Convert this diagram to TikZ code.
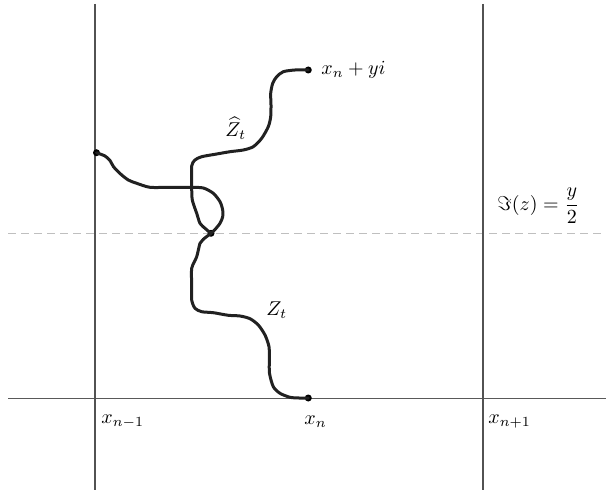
\documentclass[tikz,border=0pt]{standalone}
\usepackage{amsmath,amssymb}
\begin{document}
\begin{tikzpicture}[x=0.5pt,y=-0.5pt,
  gridline/.style={draw=black!68,line width=1pt},
  axisline/.style={draw=black!65,line width=0.7pt},
  midline/.style={draw=black!25,line width=0.6pt,dash pattern=on 4pt off 2.5pt},
  path/.style={draw=black!87,line width=1.5pt,line join=round,line cap=round},
  dot/.style={circle,fill=black,inner sep=0pt,minimum size=3.5pt},
  lab/.style={anchor=west,inner sep=0pt}]
\useasboundingbox (0,0) rectangle (606,492);
% lines
\coordinate (hl) at (8,398.3);
\coordinate (hr) at (606,398.3);
\coordinate (dl) at (8,233.5);
\coordinate (dr) at (606,233.5);
\coordinate (v1t) at (94.5,4);
\coordinate (v1b) at (94.5,490);
\coordinate (v2t) at (482.5,4);
\coordinate (v2b) at (482.5,490);
\draw[midline] (dl) -- (dr);
\draw[axisline] (hl) -- (hr);
\draw[gridline] (v1t) -- (v1b);
\draw[gridline] (v2t) -- (v2b);
% points
\node[dot] (ztop) at (308.3,70) {};
\node[dot] (zleft) at (96.5,152.7) {};
\node[dot] (zmeet) at (211,233.3) {};
\node[dot] (zbot) at (308.3,398) {};
% upper path
\draw[path] plot[smooth,tension=0.45] coordinates {(ztop.center) (295,70) (283.3,71.7) (276.7,76.7) (272.7,83.3) (270.7,93.3) (271,105) (270.7,116.7) (268.3,126.7) (261.7,138.3) (253.3,146.7) (243.3,150) (230,151.7) (216.7,154) (201.7,156.7) (195,160) (191.7,166) (191.7,186.7) (192.3,200) (196.7,213.3) (200,223.3) (205,228.3) (zmeet.center)};
% left path
\draw[path] plot[smooth,tension=0.45] coordinates {(zleft.center) (105,156) (110,160.5) (113.5,166.7) (120,173.5) (128.3,180) (136.7,183.3) (150,187.3) (170,187.3) (190,187.3) (203.3,188) (213.3,193.3) (220,201.7) (222.7,210) (222.7,216.7) (220,223.3) (215,229.5) (zmeet.center)};
% lower path
\draw[path] plot[smooth,tension=0.45] coordinates {(zmeet.center) (203.3,239.3) (200,243.3) (196.7,256.7) (191.7,268.3) (191.7,285) (191.7,300) (195,308.3) (201.7,311.7) (213.3,312.7) (228.3,315.3) (240,316) (250,318.7) (258.3,325) (265,335) (269,346.7) (269.3,360) (269.5,373.3) (273.3,386.7) (280,393.3) (290,397.3) (299,398) (zbot.center)};
% labels
\node[lab] (lxtop) at (321,70) {$x_n+yi$};
\node[lab] (lzhat) at (225,128) {$\widehat{Z}_t$};
\node[lab] (lz) at (266,310) {$Z_t$};
\node[lab] (lim) at (497,206) {$\Im(z)=\dfrac{y}{2}$};
\node[lab] (lxa) at (101,422) {$x_{n-1}$};
\node[lab] (lxb) at (304,422) {$x_n$};
\node[lab] (lxc) at (488,422) {$x_{n+1}$};
\end{tikzpicture}
\end{document}
